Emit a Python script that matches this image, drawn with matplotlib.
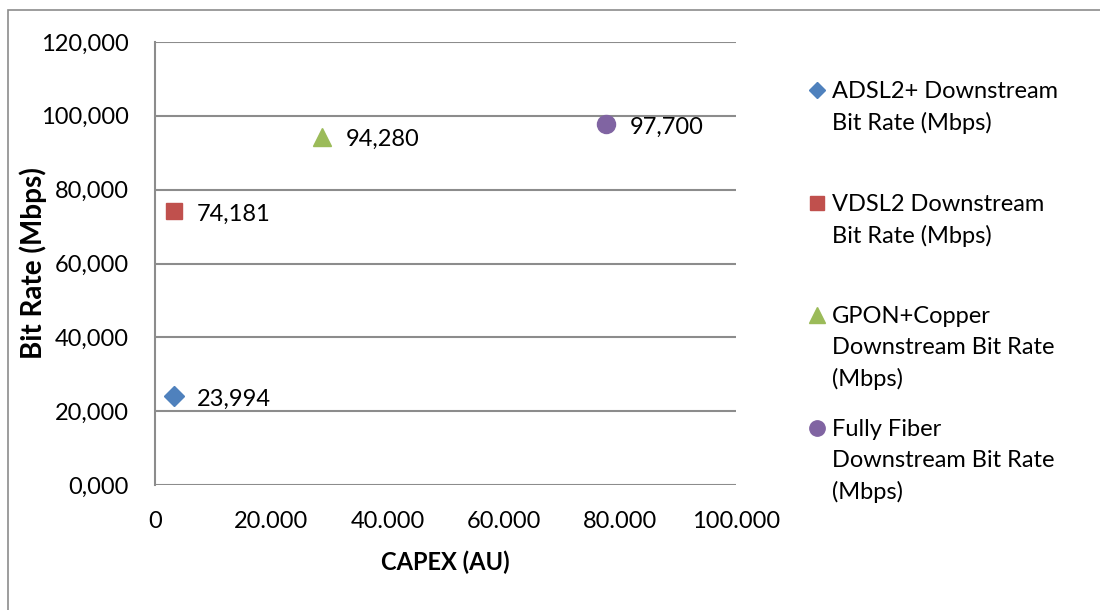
import matplotlib

matplotlib.use("Agg")
import matplotlib.pyplot as plt
from matplotlib.lines import Line2D
from matplotlib.patches import Rectangle

plt.rcParams["font.family"] = ["Lato", "DejaVu Sans"]

# ---- data ------------------------------------------------------------------
series = ["ADSL2+ Downstream\nBit Rate (Mbps)",
          "VDSL2 Downstream\nBit Rate (Mbps)",
          "GPON+Copper\nDownstream Bit Rate\n(Mbps)",
          "Fully Fiber\nDownstream Bit Rate\n(Mbps)"]
capex = [3.2, 3.2, 28.7, 77.6]
bit_rate = [23.994, 74.181, 94.280, 97.700]
colors = ["#4F81BD", "#C0504D", "#9BBB59", "#8064A2"]
markers = ["D", "s", "^", "o"]
msizes = [10, 12, 13, 13]
x_ticks = [0, 20, 40, 60, 80, 100]
y_ticks = [0, 20, 40, 60, 80, 100, 120]

GRID = "#8C8C8C"
FS = 17

fig = plt.figure(figsize=(11.0, 6.1), dpi=100)
ax = fig.add_axes([155 / 1100, 1 - 485 / 610, 581 / 1100, 443 / 610])

# outer chart frame (cut off at right / bottom like the reference)
fig.add_artist(Rectangle((8 / 1100, -0.1), 1.2, 1 - 10 / 610 + 0.1,
                         transform=fig.transFigure, fill=False,
                         edgecolor="#8C8C8C", lw=1.2))

for x, y, c, m, s in zip(capex, bit_rate, colors, markers, msizes):
    ax.plot([x], [y], linestyle="none", marker=m, markersize=s, color=c,
            markeredgecolor=c, zorder=3)
    ax.annotate(f"{y:.3f}".replace(".", ","), (x, y), xytext=(17, -2),
                textcoords="offset points", ha="left", va="center", fontsize=FS)

ax.set_xlim(0, 100)
ax.set_ylim(0, 120)
ax.set_xticks(x_ticks)
ax.set_yticks(y_ticks)
ax.set_xticklabels(["0" if v == 0 else f"{v:.3f}" for v in x_ticks])
ax.set_yticklabels([f"{v:.3f}".replace(".", ",") for v in y_ticks])
ax.tick_params(length=0, labelsize=FS)
ax.tick_params(axis="y", pad=19)
ax.tick_params(axis="x", pad=19)

ax.grid(axis="y", color=GRID, lw=1.5)
ax.set_axisbelow(True)
for side in ("top", "right", "bottom"):
    ax.spines[side].set_visible(False)
ax.spines["left"].set_color(GRID)
ax.spines["left"].set_linewidth(1.5)

ax.set_ylabel("Bit Rate (Mbps)", fontsize=20, fontweight="bold", va="center")
ax.yaxis.set_label_coords((33 - 155) / 581, (485 - 263) / 443)
ax.set_xlabel("CAPEX (AU)", fontsize=FS, fontweight="bold", labelpad=13)

# legend: marker aligned to first line of each wrapped label
legend_y = [90, 203, 315, 428]
for lab, c, m, s, yp in zip(series, colors, markers, msizes, legend_y):
    yf = 1 - yp / 610
    fig.add_artist(Line2D([817 / 1100], [yf], marker=m, markersize=s * 0.85,
                          color=c, linestyle="none", transform=fig.transFigure))
    fig.text(832 / 1100, yf + 9 / 610, lab, ha="left", va="top", fontsize=FS,
             linespacing=1.56)

fig.savefig("out.png", dpi=100)
